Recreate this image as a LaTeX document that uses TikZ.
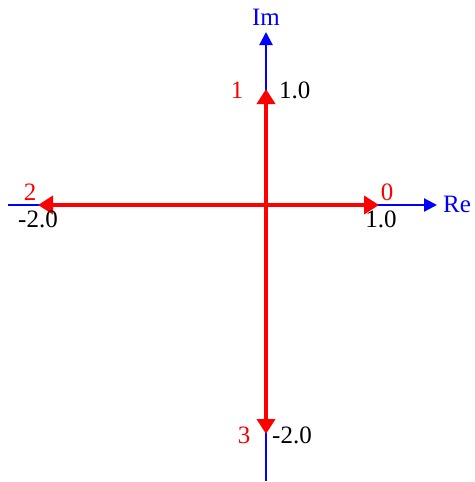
\documentclass[tikz,border=0pt]{standalone}
\usepackage{fontspec}
\setmainfont{Liberation Serif}
\usetikzlibrary{arrows.meta}
\begin{document}
\begin{tikzpicture}[x=1pt,y=-1pt,
  axis/.style={draw=blue,line width=2.2pt,-{Triangle[length=13pt,width=13pt]}},
  vec/.style={draw=red,line width=4pt,-{Triangle[length=15pt,width=18pt]}},
  lab/.style={font=\fontsize{25}{28}\selectfont,inner sep=0pt,anchor=base},
  idx/.style={lab,text=red},
  val/.style={lab,text=black},
  axl/.style={lab,text=blue}]
\useasboundingbox (0,0) rectangle (474,482);
\coordinate (O) at (266,205);
\coordinate (ImTop) at (266,32);
\coordinate (ImBot) at (266,481);
\coordinate (ReL) at (8,205);
\coordinate (ReR) at (437,205);
\coordinate (p0) at (379,205);
\coordinate (p1) at (266,89);
\coordinate (p2) at (38,205);
\coordinate (p3) at (266,434);
\draw[axis] (ReL) -- (ReR);
\draw[axis] (ImBot) -- (ImTop);
\draw[vec] (O) -- (p0);
\draw[vec] (O) -- (p1);
\draw[vec] (O) -- (p2);
\draw[vec] (O) -- (p3);
\node[axl] (im) at (266,25) {Im};
\node[axl,anchor=base west] (re) at (443,212) {Re};
\node[idx] (l0) at (387,200) {0};
\node[val] (v0) at (381,227) {1.0};
\node[idx] (l1) at (237,98) {1};
\node[val,anchor=base west] (v1) at (279,98) {1.0};
\node[idx] (l2) at (30,200) {2};
\node[val] (v2) at (38,227) {-2.0};
\node[idx] (l3) at (244,443) {3};
\node[val,anchor=base west] (v3) at (272,443) {-2.0};
\end{tikzpicture}
\end{document}
